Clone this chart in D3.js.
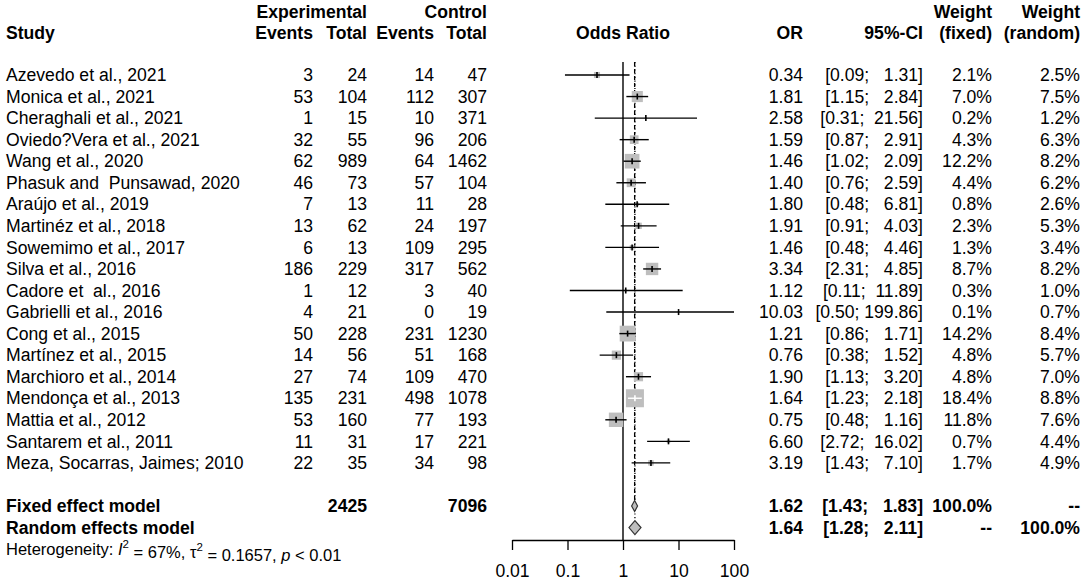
<!DOCTYPE html>
<html>
<head>
<meta charset="utf-8">
<script src="https://cdn.jsdelivr.net/npm/d3@7"></script>
<style>
body{margin:0;background:#fff;}
text{font-family:"Liberation Sans",Arial,sans-serif;fill:#000;white-space:pre;}
</style>
</head>
<body>
<svg id="chart" width="1084" height="583"></svg>
<script>
// data
const studies=["Azevedo et al., 2021","Monica et al., 2021","Cheraghali et al., 2021","Oviedo?Vera et al., 2021",
 "Wang et al., 2020","Phasuk and  Punsawad, 2020","Araújo et al., 2019","Martinéz et al., 2018",
 "Sowemimo et al., 2017","Silva et al., 2016","Cadore et  al., 2016","Gabrielli et al., 2016",
 "Cong et al., 2015","Martínez et al., 2015","Marchioro et al., 2014","Mendonça et al., 2013",
 "Mattia et al., 2012","Santarem et al., 2011","Meza, Socarras, Jaimes; 2010"];
const expEvents=[3,53,1,32,62,46,7,13,6,186,1,4,50,14,27,135,53,11,22];
const expTotal=[24,104,15,55,989,73,13,62,13,229,12,21,228,56,74,231,160,31,35];
const ctrlEvents=[14,112,10,96,64,57,11,24,109,317,3,0,231,51,109,498,77,17,34];
const ctrlTotal=[47,307,371,206,1462,104,28,197,295,562,40,19,1230,168,470,1078,193,221,98];
const oddsRatio=[0.34,1.81,2.58,1.59,1.46,1.40,1.80,1.91,1.46,3.34,1.12,10.03,1.21,0.76,1.90,1.64,0.75,6.60,3.19];
const lower=[0.09,1.15,0.31,0.87,1.02,0.76,0.48,0.91,0.48,2.31,0.11,0.50,0.86,0.38,1.13,1.23,0.48,2.72,1.43];
const upper=[1.31,2.84,21.56,2.91,2.09,2.59,6.81,4.03,4.46,4.85,11.89,199.86,1.71,1.52,3.20,2.18,1.16,16.02,7.10];
const wFixed=[2.1,7.0,0.2,4.3,12.2,4.4,0.8,2.3,1.3,8.7,0.3,0.1,14.2,4.8,4.8,18.4,11.8,0.7,1.7];
const wRandom=[2.5,7.5,1.2,6.3,8.2,6.2,2.6,5.3,3.4,8.2,1.0,0.7,8.4,5.7,7.0,8.8,7.6,4.4,4.9];
const models=["Fixed effect model","Random effects model"];
const modelTotals=[2425,7096];
const modelOR=[1.62,1.64];
const modelLower=[1.43,1.28];
const modelUpper=[1.83,2.11];
const axisTicks=[0.01,0.1,1,10,100];

const svg=d3.select("#chart");
const fs=17.6;
const f2=d3.format(".2f"), f1=d3.format(".1f");

const x=d3.scaleLog().domain([0.01,100]).range([512,734]);
const y=d3.scaleLinear().domain([0,1]).range([75,96.55]);
const box=d3.scaleSqrt().domain([0,18.4]).range([0,18]);

// column right edges
const col={study:6,expE:313,expT:367,ctlE:434,ctlT:487,or:803,ci:923,wf:992,wr:1080};

function txt(xp,yp,s,anchor,bold,size){
  return svg.append("text").attr("x",xp).attr("y",yp).attr("dy","0.35em")
    .attr("text-anchor",anchor||"end").attr("font-size",size||fs)
    .attr("font-weight",bold?"bold":"normal").text(s);
}
// R-style CI string, upper bound padded with spaces
const ci=(lo,hi)=>"["+f2(lo)+"; "+f2(hi).padStart(6," ")+"]";

// headers
txt(col.expT,12,"Experimental","end",true);
txt(col.ctlT,12,"Control","end",true);
txt(col.study,33,"Study","start",true);
txt(col.expE,33,"Events","end",true);
txt(col.expT,33,"Total","end",true);
txt(col.ctlE,33,"Events","end",true);
txt(col.ctlT,33,"Total","end",true);
txt(x(1),33,"Odds Ratio","middle",true);
txt(col.or,33,"OR","end",true);
txt(col.ci,33,"95%-CI","end",true);
txt(col.wf,12,"Weight","end",true);
txt(col.wf,33,"(fixed)","end",true);
txt(col.wr,12,"Weight","end",true);
txt(col.wr,33,"(random)","end",true);

// study rows
studies.forEach((s,i)=>{
  const yy=y(i);
  txt(col.study,yy,s,"start");
  txt(col.expE,yy,expEvents[i]);
  txt(col.expT,yy,expTotal[i]);
  txt(col.ctlE,yy,ctrlEvents[i]);
  txt(col.ctlT,yy,ctrlTotal[i]);
  txt(col.or,yy,f2(oddsRatio[i]));
  txt(col.ci,yy,ci(lower[i],upper[i]));
  txt(col.wf,yy,f1(wFixed[i])+"%");
  txt(col.wr,yy,f1(wRandom[i])+"%");
});

// model rows
models.forEach((m,i)=>{
  const yy=y(20+i);
  txt(col.study,yy,m,"start",true);
  if(i===0){
    txt(col.expT,yy,modelTotals[0],"end",true);
    txt(col.ctlT,yy,modelTotals[1],"end",true);
  }
  txt(col.or,yy,f2(modelOR[i]),"end",true);
  txt(col.ci,yy,ci(modelLower[i],modelUpper[i]),"end",true);
  txt(col.wf,yy,i===0?"100.0%":"--","end",true);
  txt(col.wr,yy,i===0?"--":"100.0%","end",true);
});

// heterogeneity line
const het=svg.append("text").attr("x",col.study).attr("y",y(22)).attr("dy","0.35em").attr("font-size",16.5);
het.append("tspan").text("Heterogeneity: ");
het.append("tspan").attr("font-style","italic").text("I");
het.append("tspan").attr("font-size",11.5).attr("dy","-0.6em").text("2");
het.append("tspan").attr("dy","0.6em").text(" = 67%, τ");
het.append("tspan").attr("font-size",11.5).attr("dy","-0.6em").text("2");
het.append("tspan").attr("dy","0.6em").text(" = 0.1657, ");
het.append("tspan").attr("font-style","italic").text("p");
het.append("tspan").text(" < 0.01");

const topY=62, axisY=540;

// reference lines
svg.append("line").attr("x1",x(1)).attr("x2",x(1)).attr("y1",topY).attr("y2",axisY)
  .attr("stroke","#000").attr("stroke-width",1.4);
svg.append("line").attr("x1",x(modelOR[0])).attr("x2",x(modelOR[0])).attr("y1",topY).attr("y2",y(20)-5.5)
  .attr("stroke","#000").attr("stroke-width",1.3).attr("stroke-dasharray","4,3");
svg.append("line").attr("x1",x(modelOR[1])).attr("x2",x(modelOR[1])).attr("y1",topY).attr("y2",y(21)-7)
  .attr("stroke","#000").attr("stroke-width",1.3).attr("stroke-dasharray","1.2,2.5");

// study marks
const clamp=v=>Math.max(0.01,Math.min(100,v));
studies.forEach((s,i)=>{
  const yy=y(i), cx=x(oddsRatio[i]), b=box(wFixed[i]);
  svg.append("rect").attr("x",cx-b/2).attr("y",yy-b/2).attr("width",b).attr("height",b).attr("fill","#bebebe");
  const x1=x(clamp(lower[i])), x2=x(clamp(upper[i]));
  const inside=(x1>=cx-b/2 && x2<=cx+b/2);
  svg.append("line").attr("x1",x1).attr("x2",x2).attr("y1",yy).attr("y2",yy)
    .attr("stroke",inside?"#fff":"#000").attr("stroke-width",1.4);
  svg.append("line").attr("x1",cx).attr("x2",cx).attr("y1",yy-3).attr("y2",yy+3)
    .attr("stroke",inside?"#fff":"#000").attr("stroke-width",1.6);
});

// diamonds
models.forEach((m,i)=>{
  const yy=y(20+i), h=i===0?5.5:7;
  const pts=[[x(modelLower[i]),yy],[x(modelOR[i]),yy-h],[x(modelUpper[i]),yy],[x(modelOR[i]),yy+h]];
  svg.append("polygon").attr("points",pts.map(p=>p.join(",")).join(" "))
    .attr("fill","#bebebe").attr("stroke","#333").attr("stroke-width",1.2);
});

// axis
const axis=d3.axisBottom(x).tickValues(axisTicks).tickFormat(d=>String(d))
  .tickSize(10).tickSizeOuter(0).tickPadding(15);
const g=svg.append("g").attr("transform",`translate(0,${axisY})`).call(axis);
g.selectAll("path,line").attr("stroke","#000").attr("stroke-width",1.3);
g.selectAll("text").attr("font-size",fs).attr("font-family","Liberation Sans,Arial,sans-serif");
</script>
</body>
</html>
